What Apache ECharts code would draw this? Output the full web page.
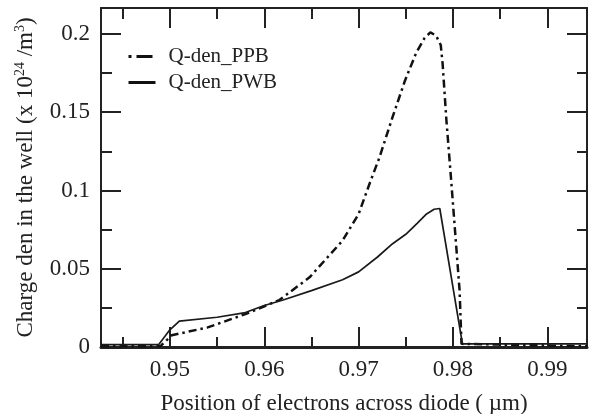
<!DOCTYPE html>
<html>
<head>
<meta charset="utf-8">
<script src="https://cdn.jsdelivr.net/npm/echarts@6/dist/echarts.min.js"></script>
<style>
html,body{margin:0;padding:0;background:#fff;}
#chart{width:589px;height:414px;}
</style>
</head>
<body>
<div id="chart"></div>
<script>
// Q-den_PPB (dash-dot)
const xPPB = [0.9427, 0.9490, 0.9502, 0.9540, 0.9580, 0.9616, 0.9648, 0.9683, 0.9700, 0.9712, 0.9722, 0.9736, 0.9749, 0.9761, 0.9770, 0.9776, 0.9782, 0.9787, 0.9789, 0.9793, 0.9798, 0.9807, 0.9809, 0.9942];
const yPPB = [0.0005, 0.0005, 0.0075, 0.0125, 0.0210, 0.0300, 0.0445, 0.0680, 0.0850, 0.1050, 0.1210, 0.1470, 0.1700, 0.1880, 0.1975, 0.2010, 0.1990, 0.1930, 0.1810, 0.1450, 0.1070, 0.0360, 0.0020, 0.0005];
// Q-den_PWB (solid)
const xPWB = [0.9427, 0.9488, 0.9500, 0.9510, 0.9550, 0.9580, 0.9600, 0.9620, 0.9650, 0.9683, 0.9700, 0.9720, 0.9736, 0.9750, 0.9762, 0.9772, 0.9780, 0.9786, 0.9810, 0.9942];
const yPWB = [0.0015, 0.0015, 0.0110, 0.0165, 0.0190, 0.0220, 0.0265, 0.0300, 0.0360, 0.0430, 0.0480, 0.0575, 0.0660, 0.0720, 0.0790, 0.0850, 0.0880, 0.0885, 0.0020, 0.0020];

const xMajor = [0.95, 0.96, 0.97, 0.98, 0.99];
const xMinor = [0.945, 0.955, 0.965, 0.975, 0.985];
const yMajor = [0, 0.05, 0.1, 0.15, 0.2];
const yMinor = [0.025, 0.075, 0.125, 0.175];

const seriesNames = ['Q-den_PPB', 'Q-den_PWB'];
const xName = 'Position of electrons across diode ( µm)';
const yName = 'Charge den in the well (x 10{sup|24} /m{sup|3})';

const XMIN = 0.9427, XMAX = 0.9942, YMIN = 0, YMAX = 0.2166;
const FONT = 'Liberation Serif';
const INK = '#222';

function pairs(xs, ys) { return xs.map((x, i) => [x, ys[i]]); }
function fmt(v) { return String(+v.toFixed(3)); }

function xAx(pos, vals, len, withLabel, line) {
  return {
    type: 'value', position: pos, min: XMIN, max: XMAX,
    splitLine: { show: false },
    axisLine: { show: line, onZero: false, lineStyle: { color: INK, width: pos === 'bottom' ? 3 : 2 } },
    axisTick: { show: true, inside: true, length: len, customValues: vals, lineStyle: { color: INK, width: 2 } },
    axisLabel: withLabel ? { show: true, customValues: vals, formatter: fmt, fontFamily: FONT, fontSize: 23, color: INK, margin: 11 } : { show: false }
  };
}
function yAx(pos, vals, len, withLabel, line) {
  return {
    type: 'value', position: pos, min: YMIN, max: YMAX,
    splitLine: { show: false },
    axisLine: { show: line, onZero: false, lineStyle: { color: INK, width: 2 } },
    axisTick: { show: true, inside: true, length: len, customValues: vals, lineStyle: { color: INK, width: 2 } },
    axisLabel: withLabel ? { show: true, customValues: vals, formatter: fmt, fontFamily: FONT, fontSize: 23, color: INK, margin: 11 } : { show: false }
  };
}

const xAxes = [
  xAx('bottom', xMajor, 20, true, true),
  xAx('bottom', xMinor, 10, false, false),
  xAx('top', xMajor, 20, false, true),
  xAx('top', xMinor, 11, false, false)
];
Object.assign(xAxes[0], {
  name: xName, nameLocation: 'middle', nameGap: 45,
  nameTextStyle: { fontFamily: FONT, fontSize: 23, color: INK }
});
const yAxes = [
  yAx('left', yMajor, 20, true, true),
  yAx('left', yMinor, 11, false, false),
  yAx('right', yMajor, 20, false, true),
  yAx('right', yMinor, 10, false, false)
];
Object.assign(yAxes[0], {
  name: yName, nameLocation: 'middle', nameGap: 59, nameRotate: 90,
  nameTextStyle: {
    fontFamily: FONT, fontSize: 23, color: INK, lineHeight: 26,
    rich: { sup: { fontFamily: FONT, fontSize: 14, lineHeight: 14, verticalAlign: 'top', color: INK } }
  }
});

const chart = echarts.init(document.getElementById('chart'), null, { renderer: 'canvas' });
chart.setOption({
  animation: false,
  backgroundColor: '#fff',
  grid: { left: 101, top: 8, right: 2, bottom: 67, containLabel: false, outerBoundsMode: 'none' },
  legend: {
    left: 122, top: 41, orient: 'vertical', itemWidth: 27, itemHeight: 10, itemGap: 5,
    textStyle: { fontFamily: FONT, fontSize: 21, color: INK, padding: [0, 0, 0, 8] },
    data: [
      { name: seriesNames[0], itemStyle: { opacity: 0 }, lineStyle: { type: [3, 5, 16, 20], width: 3, color: '#111' } },
      { name: seriesNames[1], itemStyle: { opacity: 0 }, lineStyle: { type: 'solid', width: 3, color: '#111' } }
    ]
  },
  xAxis: xAxes,
  yAxis: yAxes,
  series: [
    {
      name: seriesNames[0], type: 'line', symbol: 'none', color: '#111', xAxisIndex: 0, yAxisIndex: 0,
      data: pairs(xPPB, yPPB),
      lineStyle: { color: '#111', width: 2.5, type: [8, 4, 2.5, 4] }
    },
    {
      name: seriesNames[1], type: 'line', symbol: 'none', color: '#111', xAxisIndex: 0, yAxisIndex: 0,
      data: pairs(xPWB, yPWB),
      lineStyle: { color: '#1a1a1a', width: 1.7, type: 'solid' }
    }
  ]
});
</script>
</body>
</html>
